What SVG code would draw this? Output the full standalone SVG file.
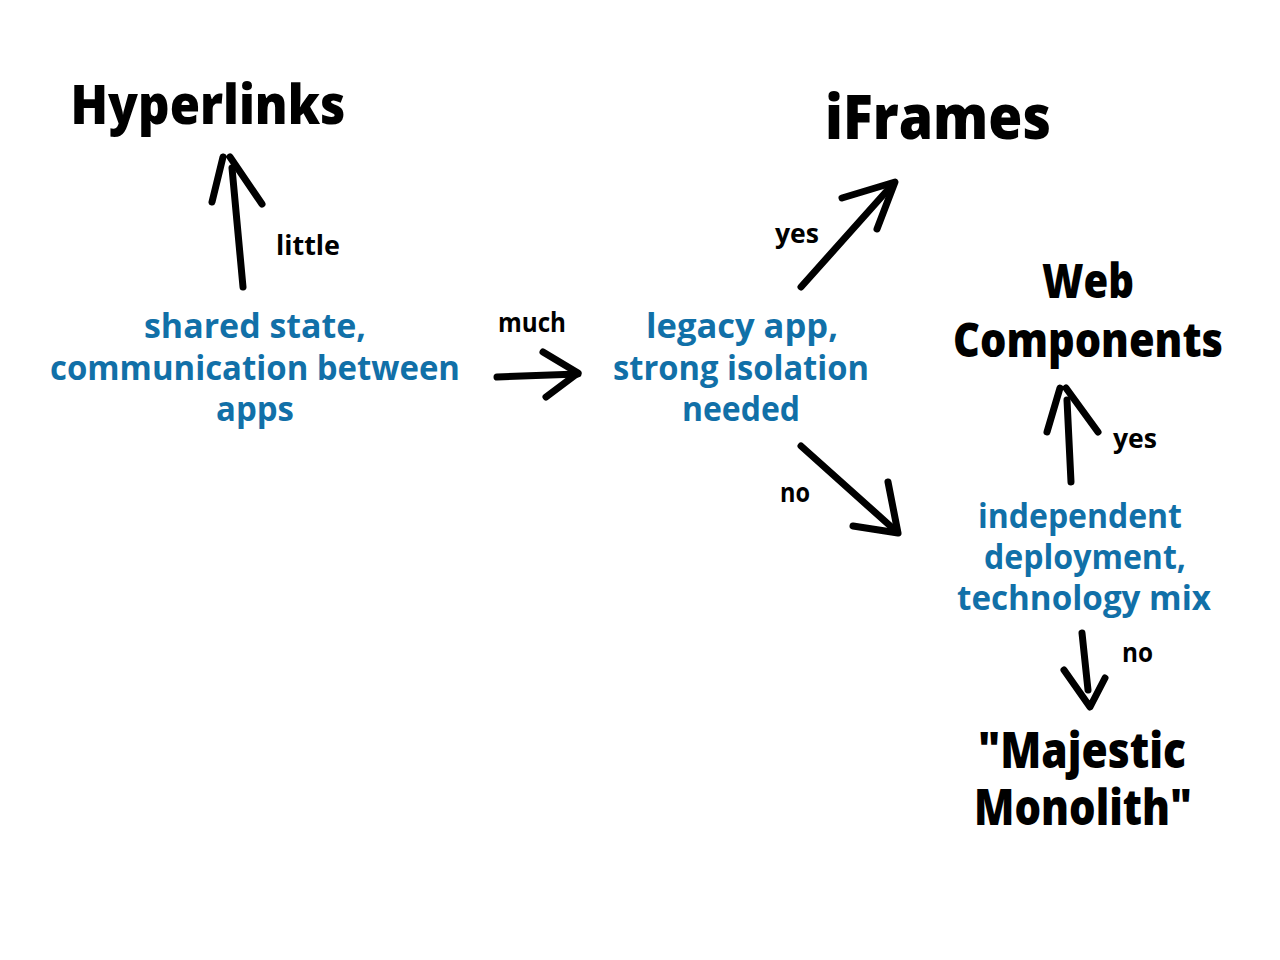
<svg xmlns="http://www.w3.org/2000/svg" width="1280" height="960" viewBox="0 0 1280 960">
<style>
.t{font-family:"Open Sans","Liberation Sans",sans-serif;font-weight:800;fill:#000;text-anchor:middle}
.q{font-family:"Open Sans","Liberation Sans",sans-serif;font-weight:700;fill:#1170a8;text-anchor:middle;font-size:34px}
.l{font-family:"Open Sans","Liberation Sans",sans-serif;font-weight:700;fill:#000;font-size:26px}
.a{fill:none;stroke:#000;stroke-width:7;stroke-linecap:round;stroke-linejoin:round}
</style>
<rect width="1280" height="960" fill="#fff"/>
<g id="hyperlinks"><text class="t" x="208" y="124" font-size="54" textLength="275" lengthAdjust="spacingAndGlyphs">Hyperlinks</text></g>
<g id="iframes"><text class="t" x="938" y="139" font-size="62" textLength="226" lengthAdjust="spacingAndGlyphs">iFrames</text></g>
<g id="webcomponents">
<text class="t" x="1088" y="298" font-size="48" textLength="92" lengthAdjust="spacingAndGlyphs">Web</text>
<text class="t" x="1088" y="357" font-size="48" textLength="270" lengthAdjust="spacingAndGlyphs">Components</text>
</g>
<g id="monolith">
<text class="t" x="1082" y="768" font-size="50" textLength="208" lengthAdjust="spacingAndGlyphs">"Majestic</text>
<text class="t" x="1083" y="825" font-size="50" textLength="218" lengthAdjust="spacingAndGlyphs">Monolith"</text>
</g>
<g id="sharedstate">
<text class="q" x="255" y="338" textLength="222" lengthAdjust="spacingAndGlyphs">shared state,</text>
<text class="q" x="255" y="380" textLength="410" lengthAdjust="spacingAndGlyphs">communication between</text>
<text class="q" x="255" y="421" textLength="78" lengthAdjust="spacingAndGlyphs">apps</text>
</g>
<g id="legacy">
<text class="q" x="742" y="338" textLength="192" lengthAdjust="spacingAndGlyphs">legacy app,</text>
<text class="q" x="741" y="380" textLength="256" lengthAdjust="spacingAndGlyphs">strong isolation</text>
<text class="q" x="741" y="421" textLength="118" lengthAdjust="spacingAndGlyphs">needed</text>
</g>
<g id="independent">
<text class="q" x="1080" y="528" textLength="204" lengthAdjust="spacingAndGlyphs">independent</text>
<text class="q" x="1085" y="569" textLength="202" lengthAdjust="spacingAndGlyphs">deployment,</text>
<text class="q" x="1084" y="610" textLength="254" lengthAdjust="spacingAndGlyphs">technology mix</text>
</g>
<g id="connectors">
<path class="a" d="M243,287 L232,168"/>
<path class="a" d="M212,202 L223,157 M230,157 L262,204"/>
<path class="a" d="M497,377 L578,374"/>
<path class="a" d="M543,352 L578,373 L546,397"/>
<path class="a" d="M801,287 L893,184"/>
<path class="a" d="M842,198 L895,182 L877,229"/>
<path class="a" d="M801,446 L897,532"/>
<path class="a" d="M888,482 L898,533 L853,526"/>
<path class="a" d="M1071,482 L1067,400"/>
<path class="a" d="M1047,432 L1060,388 M1066,388 L1098,432"/>
<path class="a" d="M1082,633 L1088,690"/>
<path class="a" d="M1064,670 L1090,707 L1105,678"/>
<text class="l" x="276" y="255" textLength="64" lengthAdjust="spacingAndGlyphs">little</text>
<text class="l" x="498" y="332" textLength="68" lengthAdjust="spacingAndGlyphs">much</text>
<text class="l" x="775" y="243" textLength="44" lengthAdjust="spacingAndGlyphs">yes</text>
<text class="l" x="780" y="502" textLength="30" lengthAdjust="spacingAndGlyphs">no</text>
<text class="l" x="1113" y="448" textLength="44" lengthAdjust="spacingAndGlyphs">yes</text>
<text class="l" x="1122" y="662" textLength="31" lengthAdjust="spacingAndGlyphs">no</text>
</g>
</svg>
